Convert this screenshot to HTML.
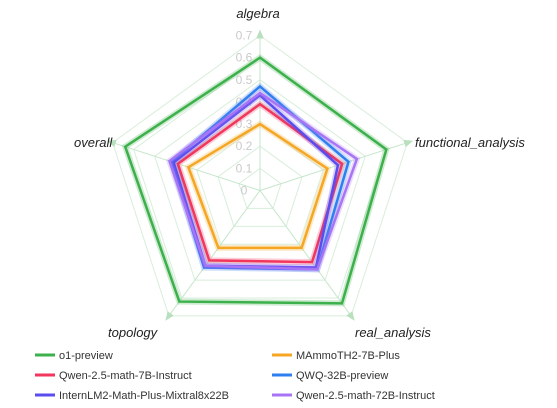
<!DOCTYPE html>
<html><head><meta charset="utf-8"><style>
body{margin:0;background:#fff;}
svg{display:block;font-family:"Liberation Sans",sans-serif;}
</style></head><body>
<svg id="chart" width="557" height="408"></svg>
<script>
const axes=["algebra","functional_analysis","real_analysis","topology","overall"];
const seriesNames=["o1-preview","MAmmoTH2-7B-Plus","Qwen-2.5-math-7B-Instruct","QWQ-32B-preview","InternLM2-Math-Plus-Mixtral8x22B","Qwen-2.5-math-72B-Instruct"];
const o1=[0.60,0.60,0.63,0.62,0.64];
const mammoth=[0.30,0.32,0.32,0.32,0.34];
const qwen7=[0.39,0.39,0.40,0.39,0.39];
const qwq=[0.47,0.42,0.44,0.43,0.42];
const intern=[0.43,0.37,0.43,0.42,0.41];
const qwen72=[0.44,0.46,0.44,0.42,0.43];
const ticks=["0","0.1","0.2","0.3","0.4","0.5","0.6","0.7"];
const colors=["#3cb04a","#f5a623","#f2365e","#2f7ff0","#5b4cf0","#a774f5"];
const allSeries=[o1,mammoth,qwen7,qwq,intern,qwen72];
const NS="http://www.w3.org/2000/svg";
const svg=document.getElementById('chart');
const cx=260,cy=190.5,R=155,maxV=0.7;
function ang(i){return (-90+72*i)*Math.PI/180;}
function pt(i,v){const r=v/maxV*R;return [cx+r*Math.cos(ang(i)),cy+r*Math.sin(ang(i))];}
function mk(tag,attrs){const e=document.createElementNS(NS,tag);for(const k in attrs)e.setAttribute(k,attrs[k]);svg.appendChild(e);return e;}
for(let t=1;t<ticks.length;t++){
  const v=parseFloat(ticks[t]);
  const g=mk('polygon',{points:axes.map((a,i)=>pt(i,v).join(',')).join(' '),fill:'none',stroke:'#d8eedb','stroke-width':1});
  
  
}
axes.forEach((a,i)=>{
  const p=pt(i,maxV+0.01);
  const l=mk('line',{x1:cx,y1:cy,x2:p[0],y2:p[1],stroke:'#c5e6ca','stroke-width':1});
  
  
  const rt=R+6,rb=R-3,da=0.025;
  const t=[cx+rt*Math.cos(ang(i)),cy+rt*Math.sin(ang(i))],b1=[cx+rb*Math.cos(ang(i)-da),cy+rb*Math.sin(ang(i)-da)],b2=[cx+rb*Math.cos(ang(i)+da),cy+rb*Math.sin(ang(i)+da)];
  const ar=mk('polygon',{points:[t,b1,b2].map(q=>q.join(',')).join(' '),fill:'#b8e0be'});
  
  
});
ticks.forEach((tk,k)=>{
  const v=parseFloat(tk);const y=cy-v/maxV*R;
  const t=mk('text',{x:244,y:y+4,'text-anchor':'middle','font-size':12,fill:'#cacaca'});
  t.textContent=tk;
  
  
});
const labelPos=[[258,18,'middle'],[415,147,'start'],[355,337,'start'],[108,337,'start'],[74,147,'start']];
axes.forEach((a,i)=>{
  const t=mk('text',{x:labelPos[i][0],y:labelPos[i][1],'text-anchor':labelPos[i][2],'font-size':13,'font-style':'italic',fill:'#222'});
  t.textContent=a;
  
  
});
allSeries.forEach((s,si)=>{
  const pts=s.map((v,i)=>pt(i,v).join(',')).join(' ');
  const glow=mk('polygon',{points:pts,fill:'none',stroke:colors[si],'stroke-width':6,'stroke-opacity':0.25,'stroke-linejoin':'miter'});
  
  
  const p=mk('polygon',{points:pts,fill:'none',stroke:colors[si],'stroke-width':2.5,'stroke-linejoin':'miter'});
  
  
});
seriesNames.forEach((n,si)=>{
  const col=si%2,row=Math.floor(si/2);
  const x=col?272:35,y=355+row*20;
  const l=mk('line',{x1:x,y1:y,x2:x+20,y2:y,stroke:colors[si],'stroke-width':3});
  
  
  const t=mk('text',{x:x+24,y:y+4,'font-size':11,fill:'#333'});
  t.textContent=n;
  
  
});
</script>
</body></html>
